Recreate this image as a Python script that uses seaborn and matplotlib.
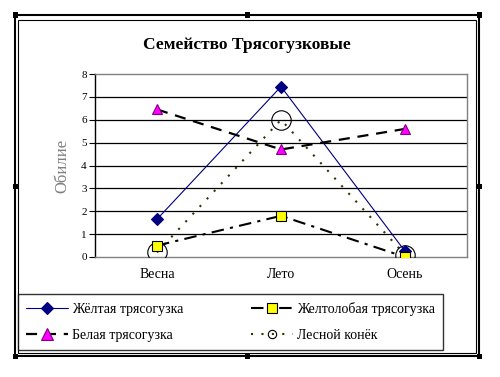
import matplotlib.pyplot as plt
import seaborn as sns
from matplotlib.lines import Line2D
from matplotlib.patches import Rectangle

# Data
seasons = ['Весна', 'Лето', 'Осень']
series_names = ['Жёлтая трясогузка', 'Желтолобая трясогузка', 'Белая трясогузка', 'Лесной конёк']
yellow_wagtail = [1.65, 7.45, 0.25]
yellowhead_wagtail = [0.5, 1.8, 0.0]
white_wagtail = [6.45, 4.7, 5.6]
tree_pipit = [0.2, 6.0, 0.1]

values = {
    'Жёлтая трясогузка': yellow_wagtail,
    'Желтолобая трясогузка': yellowhead_wagtail,
    'Белая трясогузка': white_wagtail,
    'Лесной конёк': tree_pipit,
}

styles = {
    'Жёлтая трясогузка': dict(color='#000080', linestyle='-', lw=0.8, marker='D', ms=6.5,
                             mfc='#000080', mec='#000080', legend_ms=6),
    'Желтолобая трясогузка': dict(color='black', linestyle=(0, (6, 3, 1.5, 3)), lw=1.5, marker='s', ms=6.5,
                                 mfc='#FFFF00', mec='black', legend_ms=7),
    'Белая трясогузка': dict(color='black', linestyle=(0, (5, 3.5)), lw=1.6, marker='^', ms=7.5,
                            mfc='#FF00FF', mec='#800080', legend_ms=8),
    'Лесной конёк': dict(color='#333300', linestyle=(0, (1, 4)), lw=1.5, marker='o', ms=14,
                        mfc='none', mec='black', legend_ms=6),
}

draw_order = ['Лесной конёк', 'Жёлтая трясогузка', 'Белая трясогузка', 'Желтолобая трясогузка']
legend_order = ['Жёлтая трясогузка', 'Белая трясогузка', 'Желтолобая трясогузка', 'Лесной конёк']

sns.set_theme(style='white')
plt.rcParams['font.family'] = ['Liberation Serif', 'DejaVu Serif']
plt.rcParams.update({'text.color': 'black', 'axes.labelcolor': 'black',
                     'xtick.color': 'black', 'ytick.color': 'black'})

fig = plt.figure(figsize=(5.0, 3.77), dpi=100)
ax = fig.add_axes([95 / 500, 1 - 257 / 377, 372 / 500, 183 / 377])

for name in draw_order:
    st = styles[name]
    sns.lineplot(x=seasons, y=values[name], ax=ax, sort=False,
                 color=st['color'], linestyle=st['linestyle'], lw=st['lw'],
                 marker=st['marker'], markersize=st['ms'],
                 markerfacecolor=st['mfc'], markeredgecolor=st['mec'], markeredgewidth=0.8,
                 zorder=3)

ax.set_xlim(-0.5, 2.5)
ax.set_ylim(0, 8)
ax.set_yticks(range(0, 9))
ax.set_axisbelow(True)
ax.grid(axis='y', color='black', lw=0.9)
gls = ax.get_ygridlines()
gls[0].set_visible(False)
gls[-1].set_visible(False)

for side in ['top', 'right', 'bottom']:
    ax.spines[side].set_color('#808080')
    ax.spines[side].set_linewidth(1.0)
ax.spines['left'].set_color('black')
ax.spines['left'].set_linewidth(1.0)

ax.tick_params(axis='y', length=4, width=0.8, color='black', labelsize=8, pad=2, left=True)
ax.tick_params(axis='x', length=0, labelsize=10, pad=8)
ax.set_xlabel('')
ax.set_ylabel('Обилие', color='#808080', fontsize=12, labelpad=8)

fig.text(247 / 500, 1 - 45 / 377, 'Семейство Трясогузковые', ha='center', va='center',
         fontsize=12.5, fontweight='bold')

# legend
handles = []
for name in legend_order:
    st = styles[name]
    handles.append(Line2D([], [], color=st['color'], linestyle=st['linestyle'], lw=st['lw'],
                          marker=st['marker'], markersize=st['legend_ms'],
                          markerfacecolor=st['mfc'], markeredgecolor=st['mec'], markeredgewidth=0.8))
leg = fig.legend(handles, legend_order, ncol=2, loc='lower left',
                 bbox_to_anchor=(18 / 500, 1 - 350 / 377, 425 / 500, 55 / 377),
                 mode='expand', borderaxespad=0, fontsize=10, handlelength=3.0,
                 handletextpad=0.3, labelspacing=0.9, borderpad=0.6,
                 fancybox=False, frameon=True)
leg.get_frame().set_edgecolor('black')
leg.get_frame().set_linewidth(1.0)

# chart object frame with selection handles
def px_rect(x0, y0, x1, y1, **kw):
    fig.add_artist(Rectangle((x0 / 500, 1 - y1 / 377), (x1 - x0) / 500, (y1 - y0) / 377,
                             transform=fig.transFigure, **kw))

px_rect(15, 15, 479, 356, fill=False, edgecolor='black', lw=1.5)
px_rect(18, 20, 476, 353, fill=False, edgecolor='black', lw=0.8)
for hx, hy in [(15, 15), (247, 15), (479, 15), (15, 186), (479, 186),
               (15, 356), (247, 356), (479, 356)]:
    px_rect(hx - 2.5, hy - 2.5, hx + 2.5, hy + 2.5, facecolor='black', edgecolor='black', lw=0)

fig.savefig('out.png', dpi=100)
